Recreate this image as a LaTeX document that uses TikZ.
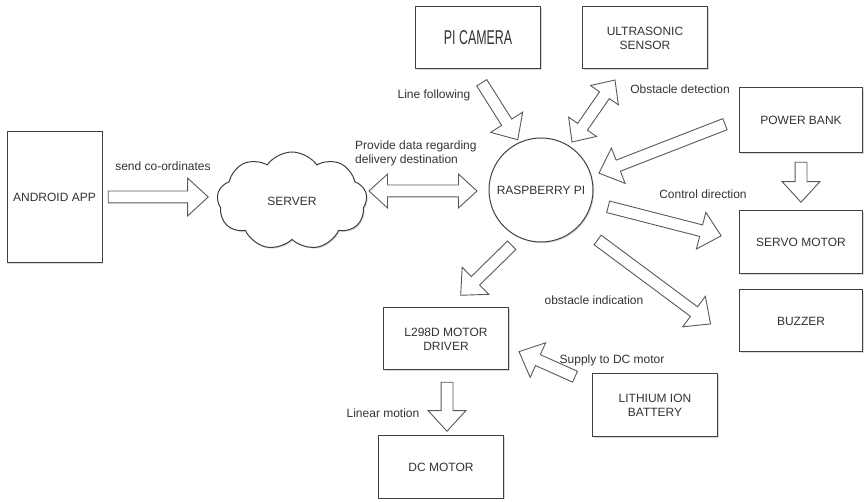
\documentclass[tikz,border=0pt]{standalone}
\usepackage{fontspec}
\setmainfont{Liberation Sans}
\usetikzlibrary{shapes.arrows,shapes.symbols,shadows,calc}

\newcommand{\blockarrow}[3][single arrow]{%
  \path let \p1=(#2), \p2=(#3),
    \n1={atan2(\y2-\y1,\x2-\x1)}, \n2={veclen(\x2-\x1,\y2-\y1)}
  in node[blockarr, #1, rotate=\n1, minimum height=\n2] at ($(\p1)!.5!(\p2)$) {};}

\begin{document}
\begin{tikzpicture}[x=1pt,y=-1pt,
    every node/.style={font=\fontsize{12}{14}\selectfont, text=black!80},
    shade/.style={drop shadow={shadow xshift=1.2pt, shadow yshift=-1.2pt, opacity=.3}},
    box/.style={draw=black!75, line width=1pt, fill=white, align=center,
      minimum width=125pt, minimum height=62pt, shade},
    blockarr/.style={draw=black!65, line width=.9pt, fill=white,
      inner xsep=0pt, inner ysep=5.5pt, minimum width=0pt,
      single arrow head extend=13pt, single arrow tip angle=85,
      double arrow head extend=11pt, double arrow tip angle=85},
    lbl/.style={inner sep=1pt}]
  \useasboundingbox (0,0) rectangle (865,502);

  \node[box, minimum width=95pt, minimum height=131pt] (android) at (54.5,197.5) {ANDROID APP};
  \node[cloud, draw=black!75, line width=1pt, fill=white, cloud puffs=9, cloud puff arc=110,
    aspect=1.6, minimum width=150pt, minimum height=98pt, shade] (server) at (292,201) {SERVER};
  \node[circle, draw=black!75, line width=1pt, fill=white, minimum size=104pt, inner sep=0pt,
    shade] (pi) at (541,190) {RASPBERRY PI};

  \node[box] (picam) at (478,38) {\scalebox{0.62}[1]{\fontsize{20}{20}\selectfont PI CAMERA}};
  \node[box] (sonic) at (645,38) {ULTRASONIC\\SENSOR};
  \node[box, minimum width=123pt, minimum height=65pt] (powerbank) at (801,120) {POWER BANK};
  \node[box, minimum width=123pt, minimum height=63pt] (servo) at (801,242) {SERVO MOTOR};
  \node[box, minimum width=123pt] (buzzer) at (801,321) {BUZZER};
  \node[box] (driver) at (446,339) {L298D MOTOR\\DRIVER};
  \node[box] (dcmotor) at (441,467) {DC MOTOR};
  \node[box, minimum height=63pt] (battery) at (655,405) {LITHIUM ION\\BATTERY};

  \coordinate (app-out) at (105,197);
  \coordinate (srv-in) at (205,197);
  \coordinate (srv-link) at (369,191);
  \coordinate (pi-link) at (477,191);
  \coordinate (cam-out) at (480,80);
  \coordinate (pi-cam) at (516,137);
  \coordinate (sonic-link) at (615,80);
  \coordinate (pi-sonic) at (572,142);
  \coordinate (bank-out) at (728,123);
  \coordinate (pi-bank) at (602,172);
  \coordinate (bank-down) at (801,159);
  \coordinate (servo-top) at (801,199);
  \coordinate (pi-servo) at (605,206);
  \coordinate (servo-in) at (718,235);
  \coordinate (pi-buzz) at (595,238);
  \coordinate (buzz-in) at (708,322);
  \coordinate (pi-drv) at (514,243);
  \coordinate (drv-in) at (463,293);
  \coordinate (drv-out) at (447,379);
  \coordinate (dc-in) at (447,428);
  \coordinate (batt-out) at (578,378);
  \coordinate (drv-supply) at (522,353);

  \blockarrow{app-out}{srv-in}
  \blockarrow[double arrow]{srv-link}{pi-link}
  \blockarrow{cam-out}{pi-cam}
  \blockarrow[double arrow]{sonic-link}{pi-sonic}
  \blockarrow{bank-out}{pi-bank}
  \blockarrow{bank-down}{servo-top}
  \blockarrow{pi-servo}{servo-in}
  \blockarrow{pi-buzz}{buzz-in}
  \blockarrow{pi-drv}{drv-in}
  \blockarrow{drv-out}{dc-in}
  \blockarrow{batt-out}{drv-supply}

  \node[lbl] (l-send) at (163,166) {send co-ordinates};
  \node[lbl, anchor=west, align=left] (l-provide) at (354,153) {Provide data regarding\\delivery destination};
  \node[lbl] (l-line) at (434,95) {Line following};
  \node[lbl] (l-obst) at (680,89) {Obstacle detection};
  \node[lbl] (l-ctrl) at (703,194) {Control direction};
  \node[lbl] (l-ind) at (594,300) {obstacle indication};
  \node[lbl] (l-supply) at (612,360) {Supply to DC motor};
  \node[lbl] (l-lin) at (383,413) {Linear motion};
\end{tikzpicture}
\end{document}
